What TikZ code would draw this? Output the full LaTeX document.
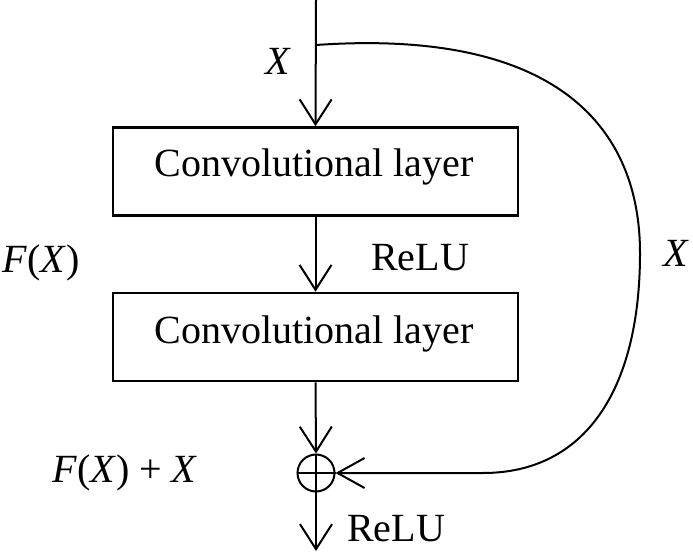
\documentclass[tikz,border=0pt]{standalone}
\usepackage{fontspec}
\setmainfont{Liberation Serif}
\usetikzlibrary{arrows.meta}
\begin{document}
\begin{tikzpicture}[x=1pt,y=-1pt,
  conn/.style={line width=2pt,-{Straight Barb[length=25pt,width=32pt,line width=2pt]}},
  layerbox/.style={draw,line width=2.6pt,minimum width=405pt,minimum height=88pt,inner sep=0pt},
  lbl/.style={font=\fontsize{40}{44}\selectfont,inner sep=0pt},
  addnode/.style={draw,circle,line width=2pt,minimum size=37pt,inner sep=0pt}]
\useasboundingbox (0,0) rectangle (693,553);
\coordinate (in) at (316,0);
\coordinate (split) at (316,45);
\node[layerbox] (box1) at (315.5,171.5) {};
\node[layerbox] (box2) at (315.5,337) {};
\node[lbl,anchor=base] (t1) at (314,177) {Convolutional layer};
\node[lbl,anchor=base] (t2) at (314,343) {Convolutional layer};
\node[addnode] (sum) at (316,473) {};
\draw[line width=2pt] (sum.north) -- (sum.south) (sum.west) -- (sum.east);
\coordinate (out) at (316,551);
\draw[conn] (in) -- (box1.north);
\draw[conn] (box1.south) -- (box2.north);
\draw[conn] (box2.south) -- (sum.north);
\draw[conn] (sum.south) -- (out);
\draw[line width=2pt,-{Straight Barb[length=27pt,width=30pt,line width=2pt]}]
  (split) .. controls (560,28) and (640,130) .. (640,253)
  .. controls (640,390) and (585,473) .. (483,473) -- (sum.east);
\node[lbl] (xin) at (278,61) {\textit{X}};
\node[lbl] (fx) at (41,263) {\textit{F}(\textit{X})};
\node[lbl] (relu1) at (420,258) {ReLU};
\node[lbl] (xskip) at (676,253) {\textit{X}};
\node[lbl] (fxx) at (125,473) {\textit{F}(\textit{X}) + \textit{X}};
\node[lbl] (relu2) at (396,529) {ReLU};
\end{tikzpicture}
\end{document}
